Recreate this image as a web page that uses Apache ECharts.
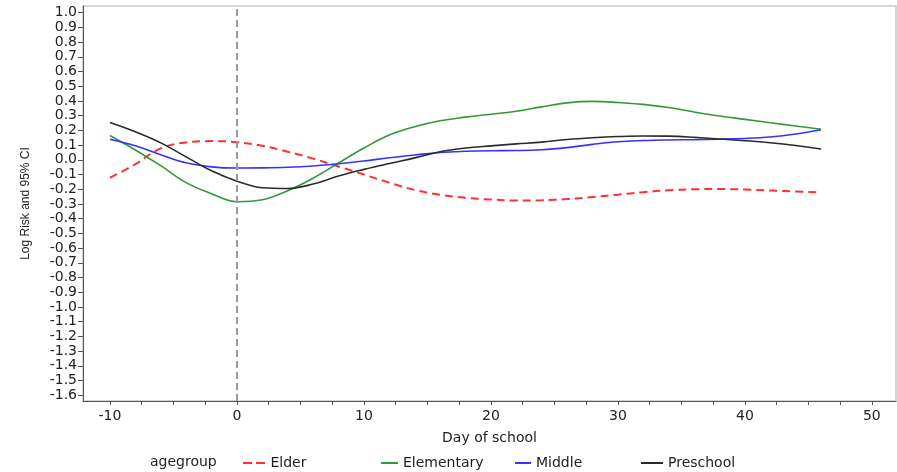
<!DOCTYPE html>
<html>
<head>
<meta charset="utf-8">
<script src="https://cdn.jsdelivr.net/npm/echarts@6/dist/echarts.min.js"></script>
<style>html,body{margin:0;padding:0;background:#fff}#c{width:897px;height:472px}</style>
</head>
<body>
<div id="c"></div>
<script>
// ---- data ----
const days = [-10,-8,-6,-4,-2,0,2,4,6,8,10,12,14,16,18,20,22,24,26,28,30,32,34,36,38,40,42,44,46];
const elder = [-0.122,-0.03,0.078,0.118,0.127,0.12,0.095,0.055,0.008,-0.045,-0.1,-0.155,-0.205,-0.238,-0.258,-0.27,-0.277,-0.275,-0.267,-0.253,-0.237,-0.22,-0.207,-0.2,-0.199,-0.202,-0.209,-0.216,-0.222];
const elementary = [0.165,0.067,-0.04,-0.155,-0.23,-0.285,-0.272,-0.21,-0.125,-0.022,0.08,0.168,0.225,0.265,0.29,0.31,0.33,0.36,0.387,0.397,0.39,0.377,0.355,0.325,0.298,0.275,0.252,0.23,0.208];
const middle = [0.14,0.095,0.035,-0.02,-0.048,-0.056,-0.055,-0.051,-0.042,-0.027,-0.008,0.014,0.033,0.05,0.058,0.062,0.063,0.068,0.083,0.105,0.123,0.131,0.135,0.137,0.14,0.145,0.155,0.175,0.204];
const preschool = [0.253,0.19,0.115,0.02,-0.075,-0.145,-0.19,-0.195,-0.165,-0.11,-0.065,-0.025,0.013,0.055,0.08,0.095,0.108,0.12,0.138,0.15,0.158,0.162,0.161,0.153,0.141,0.13,0.116,0.097,0.073];
const seriesNames = ['Elder','Elementary','Middle','Preschool'];
const xLabelValues = [-10,0,10,20,30,40,50];
const xTickValues = [-10,-7.5,-5,-2.5,0,2.5,5,7.5,10,12.5,15,17.5,20,22.5,25,27.5,30,32.5,35,37.5,40,42.5,45,47.5,50];
const yTickValues = [-1.6,-1.5,-1.4,-1.3,-1.2,-1.1,-1.0,-0.9,-0.8,-0.7,-0.6,-0.5,-0.4,-0.3,-0.2,-0.1,0.0,0.1,0.2,0.3,0.4,0.5,0.6,0.7,0.8,0.9,1.0];
const refDay = 0;

// ---- chart ----
const pairs = v => days.map((d, i) => [d, v[i]]);
const TXT = '#222';
const FONT = 'DejaVu Sans';
const chart = echarts.init(document.getElementById('c'), null, {renderer: 'canvas'});

const DASH_ICON = 'path://M0,0h9v2h-9z M13,0h9v2h-9z';
const legendSpec = [
  {name: seriesNames[0], left: 243, w: 23, icon: DASH_ICON},
  {name: seriesNames[1], left: 381, w: 17, icon: 'path://M0,0h17v2h-17z'},
  {name: seriesNames[2], left: 515, w: 16, icon: 'path://M0,0h16v2h-16z'},
  {name: seriesNames[3], left: 641, w: 22, icon: 'path://M0,0h22v2h-22z'}
];

const option = {
  animation: false,
  backgroundColor: '#fff',
  grid: {left: 83, right: 1, top: 6, bottom: 71, show: true, borderColor: '#c8c8c8', borderWidth: 1.5, containLabel: false},
  xAxis: {
    type: 'value', min: -12.12, max: 51.9,
    name: 'Day of school', nameLocation: 'middle', nameGap: 30,
    nameTextStyle: {fontFamily: FONT, fontSize: 14, color: TXT},
    axisLine: {show: true, onZero: false, lineStyle: {color: '#555', width: 1}},
    axisTick: {show: true, customValues: xTickValues, length: 4, lineStyle: {color: '#555'}},
    axisLabel: {customValues: xLabelValues, margin: 8, fontFamily: FONT, fontSize: 14, color: TXT},
    splitLine: {show: false}
  },
  yAxis: {
    type: 'value', min: -1.6395, max: 1.0455,
    name: 'Log Risk and 95% CI', nameLocation: 'middle', nameGap: 51, nameRotate: 90,
    nameTextStyle: {fontFamily: 'Liberation Sans', fontSize: 12, color: TXT},
    axisLine: {show: true, onZero: false, lineStyle: {color: '#555', width: 1}},
    axisTick: {show: true, customValues: yTickValues, length: 5, lineStyle: {color: '#555'}},
    axisLabel: {customValues: yTickValues, margin: 6, fontFamily: FONT, fontSize: 14, color: TXT,
      formatter: v => v.toFixed(1)},
    splitLine: {show: false}
  },
  legend: legendSpec.map(s => ({
    data: [{name: s.name, icon: s.icon}], left: s.left, top: 456, padding: 0, itemWidth: s.w, itemHeight: 2,
    selectedMode: false, textStyle: {fontFamily: FONT, fontSize: 14, color: TXT}
  })),
  graphic: [{
    type: 'text', left: 150, top: 455,
    style: {text: 'agegroup', fontFamily: FONT, fontSize: 14, fill: TXT}
  }],
  series: [
    {name: 'Elder', type: 'line', data: pairs(elder), symbol: 'none', smooth: 0.4,
      lineStyle: {color: '#ff3030', width: 2, type: [8, 5]}, itemStyle: {color: '#ff3030'}},
    {name: 'Elementary', type: 'line', data: pairs(elementary), symbol: 'none', smooth: 0.4,
      lineStyle: {color: '#339933', width: 1.6}, itemStyle: {color: '#339933'}},
    {name: 'Middle', type: 'line', data: pairs(middle), symbol: 'none', smooth: 0.4,
      lineStyle: {color: '#3333ff', width: 1.6}, itemStyle: {color: '#3333ff'}},
    {name: 'Preschool', type: 'line', data: pairs(preschool), symbol: 'none', smooth: 0.4,
      lineStyle: {color: '#2a2a2a', width: 1.6}, itemStyle: {color: '#2a2a2a'},
      markLine: {silent: true, symbol: 'none', label: {show: false},
        lineStyle: {color: '#9a9a9a', type: [7, 4], width: 2},
        data: [{xAxis: refDay}]}}
  ]
};
chart.setOption(option);
</script>
</body>
</html>
